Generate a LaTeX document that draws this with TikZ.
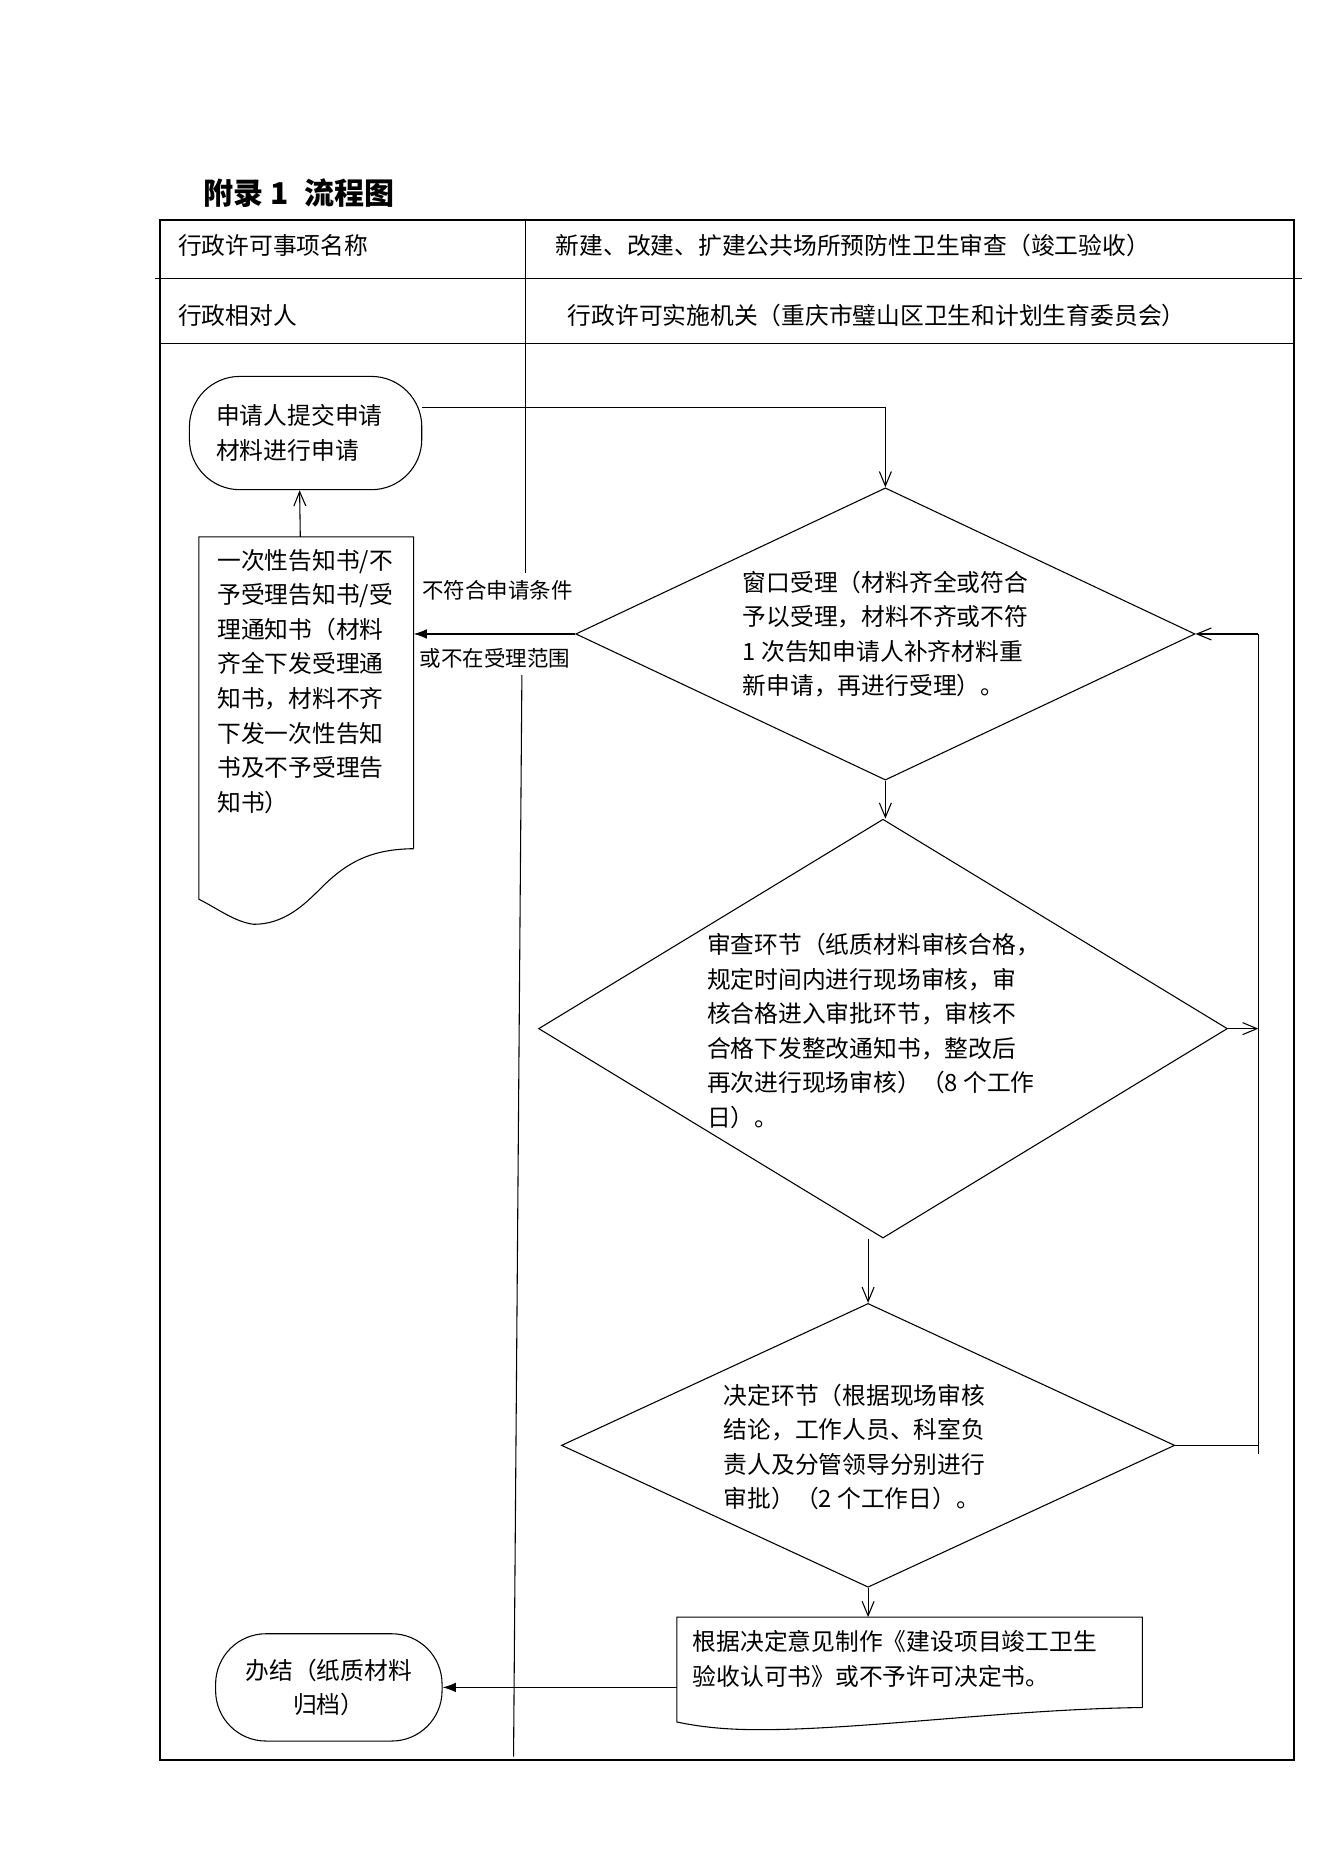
\documentclass[tikz,border=0pt]{standalone}
\usepackage{fontspec}
\setmainfont{Noto Sans CJK SC}
\usetikzlibrary{arrows.meta,shapes.geometric}
\begin{document}
\begin{tikzpicture}[x=1pt,y=-1pt,line width=0.9pt,
  txt/.style={inner sep=0pt,anchor=north west,align=left,font=\fontsize{19.8}{28.8}\selectfont},
  hdr/.style={inner sep=0pt,anchor=west,font=\fontsize{19.8}{24}\selectfont},
  lbl/.style={inner sep=0pt,anchor=west,font=\fontsize{17.9}{22}\selectfont},
  term/.style={draw,rectangle,rounded corners=42pt,inner sep=0pt,font=\fontsize{19.8}{28.8}\selectfont},
  dia/.style={draw,diamond,inner sep=0pt},
  box/.style={draw=none,rectangle,inner sep=0pt,anchor=north west},
  oarrow/.style={-{Straight Barb[length=12pt,width=10pt]}},
  farrow/.style={-{Latex[length=11pt,width=8pt]}},
  frame/.style={line width=1.5pt}]
\useasboundingbox (0,0) rectangle (1102.5,1559);
\fill[white] (0,0) rectangle (1102.5,1559);

\begin{scope}[shift={(133,183)},x=0.993pt,y=-0.9935pt,shift={(-133,-183)}]
% title
\node[inner sep=0pt,anchor=west,font=\fontsize{25}{28}\selectfont\bfseries] (title) at (169,161) {附录\hspace{6pt}1\hspace{13pt}流程图};

% frame and table lines
\draw[frame] (133,183) rectangle (1085,1475);
\draw (129,232) -- (1092,232);
\draw (133,287) -- (1085,287);
\draw (440,183) -- (440,479);
\draw (437,565) -- (430,1472);

% header texts
\node[hdr] (h1) at (148,205) {行政许可事项名称};
\node[hdr] (h2) at (465,205) {新建、改建、扩建公共场所预防性卫生审查（竣工验收）};
\node[hdr] (h3) at (148,263) {行政相对人};
\node[hdr] (h4) at (475,263) {行政许可实施机关（重庆市璧山区卫生和计划生育委员会）};

% terminal 1
\node[term,minimum width=193.6pt,minimum height=94.4pt,text width=149pt,align=left] (t1) at (255.5,362) {申请人提交申请\\材料进行申请};

% diamonds
\node[dia,minimum width=516pt,minimum height=243.5pt] (d1) at (742,530.5) {};
\node[txt] (d1t) at (622,477) {窗口受理（材料齐全或符合\\予以受理，材料不齐或不符\\1 次告知申请人补齐材料重\\新申请，再进行受理）。};

\node[dia,minimum width=574pt,minimum height=349pt] (d2) at (740,861.5) {};
\node[txt] (d2t) at (592,781) {审查环节（纸质材料审核合格，\\规定时间内进行现场审核，审\\核合格进入审批环节，审核不\\合格下发整改通知书，整改后\\再次进行现场审核）（8 个工作\\日）。};

\node[dia,minimum width=511pt,minimum height=236.5pt] (d3) at (727.5,1211) {};
\node[txt] (d3t) at (606,1159) {决定环节（根据现场审核\\结论，工作人员、科室负\\责人及分管领导分别进行\\审批）（2 个工作日）。};

% document 1
\node[box,minimum width=178pt,minimum height=259pt] (doc1) at (166,449) {};
\draw (doc1.south east) -- (doc1.north east) -- (doc1.north west) -- (166,753)
  .. controls (182,761) and (196,772) .. (212,774)
  .. controls (238,774) and (255,757) .. (268,744)
  .. controls (290,722) and (310,711) .. (doc1.south east);
\node[txt] (doc1t) at (181,459) {一次性告知书/不\\予受理告知书/受\\理通知书（材料\\齐全下发受理通\\知书，材料不齐\\下发一次性告知\\书及不予受理告\\知书）};

% document 2
\node[box,minimum width=387pt,minimum height=74.5pt] (doc2) at (567,1355) {};
\draw (doc2.south east) -- (doc2.north east) -- (doc2.north west) -- (567,1443)
  .. controls (600,1450) and (630,1450) .. (664,1449)
  .. controls (750,1446) and (860,1432) .. (doc2.south east);
\node[txt] (doc2t) at (580,1366) {根据决定意见制作《建设项目竣工卫生\\验收认可书》或不予许可决定书。};

% terminal 2
\node[term,minimum width=188.7pt,minimum height=89.4pt,align=center] (t2) at (275,1414) {办结（纸质材料\\归档）};

% labels
\node[lbl] (l1) at (353,494) {不符合申请条件};
\node[lbl] (l2) at (351,551) {或不在受理范围};

% feedback line
\coordinate (fbA) at (1055,530.5);
\coordinate (fbB) at (1055,1218);

% connectors
\draw[oarrow] ([yshift=21.5pt]t1.east) -| (d1.north);
\draw[farrow] (d1.west) -- (doc1.east |- d1.west);
\draw[oarrow] ([xshift=-5pt]doc1.north) -- ([xshift=-5pt]t1.south);
\draw[oarrow] (d1.south) -- (d1.south |- d2.north);
\draw[oarrow] (d2.south -| d3.north) -- (d3.north);
\draw[oarrow] (d3.south) -- (d3.south |- doc2.north);
\draw (fbB) -- (fbA);
\draw[oarrow] (fbA) -- (d1.east);
\draw[oarrow] (d2.east) -- (d2.east -| fbA);
\draw (d3.east) -- (d3.east -| fbA);
\draw[farrow] (doc2.west |- t2.east) -- (t2.east);
\end{scope}
\end{tikzpicture}
\end{document}
